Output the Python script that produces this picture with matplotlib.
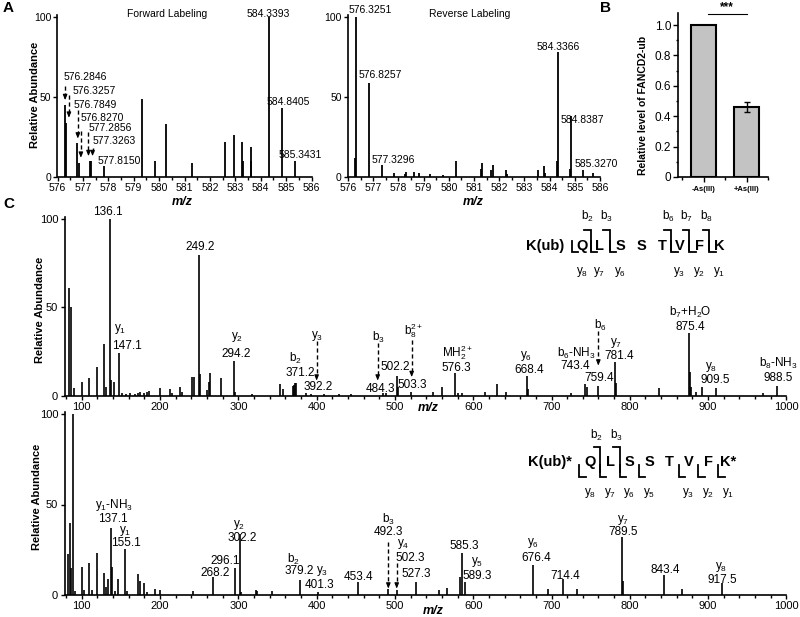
import matplotlib
matplotlib.use('Agg')
import matplotlib.pyplot as plt
from matplotlib.ticker import MultipleLocator, FixedLocator

plt.rcParams['font.family'] = ['Liberation Sans', 'DejaVu Sans']
plt.rcParams['mathtext.fontset'] = 'custom'
plt.rcParams['mathtext.rm'] = 'Liberation Sans'
plt.rcParams['mathtext.it'] = 'Liberation Sans:italic'
plt.rcParams['mathtext.bf'] = 'Liberation Sans:bold'

# ---------------- data ----------------
# Panel A, forward labeling
A_fwd_mz = [576.2846, 576.3257, 576.7849, 576.8270, 577.2856, 577.3263, 577.8150,
            579.33, 579.82, 580.28, 581.29, 582.60, 582.94, 583.27, 583.30,
            583.60, 583.63, 584.3393, 584.8405, 585.3431]
A_fwd_int = [45, 34, 21, 9, 10, 10, 7, 49, 10, 33, 9, 22, 26, 22, 10, 10, 19, 100, 43, 10]
A_fwd_lab = ["576.2846", "576.3257", "576.7849", "576.8270", "577.2856", "577.3263",
             "577.8150", "584.3393", "584.8405", "585.3431"]
A_fwd_lab_x = [577.09, 577.45, 577.48, 577.77, 578.06, 578.23, 578.43, 584.29, 585.09, 585.55]
A_fwd_lab_y = [62.3, 54, 44.8, 36.7, 30.4, 22.5, 10, 102, 47, 13.7]
A_fwd_arrow_x = [576.30, 576.45, 576.80, 576.92, 577.22, 577.38]
A_fwd_arrow_top = [57, 51.5, 42, 29, 28, 18]
A_fwd_arrow_bot = [48, 37, 24, 12, 13, 13]

# Panel A, reverse labeling
A_rev_mz = [576.28, 576.3251, 576.8257, 577.3296, 577.83, 578.25, 578.30, 578.62, 578.83,
            579.25, 579.78, 580.27, 581.28, 581.32, 581.67, 581.75, 582.26, 582.30,
            583.53, 583.78, 583.83, 584.31, 584.3366, 584.81, 584.8387, 585.3270, 585.71]
A_rev_int = [12, 100, 59, 7.5, 2.3, 2, 3.3, 3.3, 2.7, 2, 1.5, 9.7, 5, 8.6, 4.2, 7.3, 4.6, 2,
             4.2, 7.1, 2.5, 10, 78, 5, 38, 4.4, 2.5]
A_rev_lab = ["576.3251", "576.8257", "577.3296", "584.3366", "584.8387", "585.3270"]
A_rev_lab_x = [576.87, 577.30, 577.80, 584.35, 585.30, 585.86]
A_rev_lab_y = [104.4, 63.8, 10.6, 81, 35.6, 8.1]

# Panel B
B_cats = ['-As(III)', '+As(III)']
B_vals = [1.0, 0.46]
B_errs = [0.0, 0.035]

# Panel C, top spectrum
C1_mz = [83.8, 86.0, 90.0, 100.8, 109.3, 119.1, 128.5, 131.0, 136.1, 138.0, 141.0, 147.1,
         152, 157, 162, 168, 172, 175, 180, 183, 186, 200, 212.8, 215, 225.7, 228, 240.6,
         243.0, 249.2, 250.8, 260.4, 262.0, 263.8, 277.5, 294.2, 296, 318, 353.3, 356.7,
         370.3, 371.2, 372.2, 373.2, 386, 392.2, 410, 428, 444, 484.3, 488, 502.2, 504,
         521, 548.6, 560, 576.3, 581, 586, 615, 631, 642, 668.4, 670, 725, 743.4, 745,
         759.4, 781.4, 783, 837, 875.4, 876.5, 878, 884, 891.6, 909.5, 970, 988.5]
C1_int = [61, 50, 4.5, 8, 10, 16.4, 29, 5, 100, 9, 8, 24.3,
          1.5, 1.2, 1.5, 1, 1.8, 2, 1.5, 2, 2.5, 4.5, 3.8, 1.5, 5, 2, 10.4,
          10.7, 79.6, 12.3, 3, 8, 13, 10.2, 19.8, 2, 1, 6.6, 4,
          5.5, 6.2, 7, 7.4, 1.5, 1.2, 1.2, 1, 1.2, 1.5, 1.5, 11.3, 5,
          2.3, 2, 4.7, 12.6, 1.7, 1.3, 2.3, 6.4, 2.3, 11.3, 3.6, 1.3, 6.6, 5,
          5.7, 18.9, 7, 4.2, 35.3, 13.6, 5, 2, 4.7, 4.5, 1.3, 5.7]
C1_lab = ["136.1", "249.2", "y$_1$", "147.1", "y$_2$", "294.2", "b$_2$", "371.2",
          "y$_3$", "392.2", "b$_3$", "484.3", "502.2", "b$_8^{2+}$", "503.3",
          "MH$_2^{2+}$", "576.3", "y$_6$", "668.4", "b$_6$-NH$_3$", "743.4", "b$_6$",
          "759.4", "y$_7$", "781.4", "b$_7$+H$_2$O", "875.4", "y$_8$", "909.5",
          "b$_8$-NH$_3$", "988.5"]
C1_lab_x = [134, 251, 149, 157.5, 298.5, 296.7, 372.8, 378.8,
            400.5, 402, 478.8, 481, 501, 524, 522,
            579.7, 578, 667.5, 671.3, 732, 730, 762,
            760.7, 783, 786, 877, 877, 904, 909.7,
            989.6, 989.6]
C1_lab_y = [104, 84, 38, 28, 33, 23.6, 21.2, 12.6,
            34, 5, 33, 4, 16.4, 37, 6,
            24.5, 15.5, 22.5, 14.5, 23.8, 16.6, 40,
            9.8, 30, 22.6, 47, 38.7, 16.4, 8.9,
            18, 9.8]
C1_arrow_x = [400, 478, 521.4, 759.8]
C1_arrow_top = [31, 30, 31.5, 36.5]
C1_arrow_bot = [8.5, 8.5, 10.5, 17]
C1_res = ["K(ub)", "Q", "L", "S", "S", "T", "V", "F", "K"]
C1_res_x = [692, 738.6, 761, 787.5, 815, 842, 863.6, 888.8, 914.3]
C1_b_ions = [2, 3, 6, 7, 8]
C1_y_ions = [8, 7, 6, 3, 2, 1]

# Panel C, bottom spectrum
C2_mz = [82.9, 85.0, 86.3, 89.3, 92, 100.8, 102.5, 109.7, 113, 119.1, 128.5, 131, 133,
         137.1, 138.8, 142, 146.8, 155.1, 157.5, 172.3, 174.5, 180, 183, 193.6, 200,
         241.7, 268.2, 296.1, 302.2, 304, 322, 324, 343, 379.2, 401.3, 453.4, 491.6,
         502.3, 527.3, 556.7, 567, 583.5, 585.3, 589.3, 676.4, 696, 714.4, 732, 789.5,
         791, 843.4, 866.7, 917.5]
C2_int = [22.5, 39.6, 14.7, 100, 2, 15.6, 2.8, 17.5, 2.8, 23, 12.3, 4.6, 9,
          36.8, 15.6, 2.4, 8.8, 25.2, 2.4, 11.4, 7.9, 6.8, 1.8, 3.1, 2.8,
          2.4, 10.1, 15.1, 33.7, 1.5, 2.8, 2.4, 2.4, 8.3, 1.8, 7.4, 3.3,
          2.8, 7.4, 2.8, 4, 10, 23, 7.4, 16.6, 3.3, 8.7, 3.3, 31.9,
          8, 11, 3.3, 6.8]
C2_lab = ["y$_1$-NH$_3$", "137.1", "y$_1$", "155.1", "296.1", "268.2", "y$_2$", "302.2",
          "b$_2$", "379.2", "y$_3$", "401.3", "453.4", "b$_3$", "492.3", "y$_4$", "502.3",
          "527.3", "585.3", "y$_5$", "589.3", "y$_6$", "676.4", "714.4", "y$_7$", "789.5",
          "843.4", "y$_8$", "917.5"]
C2_lab_x = [141.3, 140, 156, 157, 283, 271, 301, 305.6,
            371, 378.4, 406.5, 404, 453.7, 491.6, 491.8, 510.7, 519,
            527, 588, 605, 604.5, 677, 680, 717, 791, 792,
            845, 917, 918]
C2_lab_y = [49.7, 42, 35.5, 29, 19, 12, 38.7, 31.7,
            19.8, 13, 13, 5.5, 10, 42, 35, 28, 20.6,
            11.4, 27, 18.4, 10.5, 28.5, 20.6, 10.7, 41.4, 34.6,
            13.8, 15.5, 8.5]
C2_arrow_x = [491.6, 502.3]
C2_arrow_top = [29.5, 17.5]
C2_arrow_bot = [3.5, 3.5]
C2_res = ["K(ub)*", "Q", "L", "S", "S", "T", "V", "F", "K*"]
C2_res_x = [698, 749, 775, 799, 825, 850, 875, 900, 926]
C2_b_ions = [2, 3]
C2_y_ions = [8, 7, 6, 5, 3, 2, 1]

# ---------------- figure ----------------
W, H = 800, 617
fig = plt.figure(figsize=(W / 100, H / 100), dpi=100)


def add_ax(x0, x1, y_top, y_bot):
    return fig.add_axes([x0 / W, 1 - y_bot / H, (x1 - x0) / W, (y_bot - y_top) / H])


def style(ax, fs):
    for s in ['top', 'right']:
        ax.spines[s].set_visible(False)
    for s in ['left', 'bottom']:
        ax.spines[s].set_linewidth(1.2)
    ax.tick_params(which='both', direction='out', width=1, labelsize=fs, pad=1.5)
    ax.tick_params(which='major', length=3)
    ax.tick_params(which='minor', length=1.8)


def dashed_arrow(ax, x, ytop, ybot, head):
    ax.plot([x, x], [ytop, ybot + head], ls=(0, (3, 2)), color='k', lw=1.0, clip_on=False)
    ax.annotate('', xy=(x, ybot), xytext=(x, ybot + head),
                arrowprops=dict(arrowstyle='-|>,head_length=0.45,head_width=0.18',
                                mutation_scale=7, color='k', lw=0.8,
                                shrinkA=0, shrinkB=0),
                annotation_clip=False)


# ---- Panel A left ----
axA1 = add_ax(57.5, 311.5, 177 - 101 * 1.6, 177)
axA1.vlines(A_fwd_mz, 0, A_fwd_int, color='k', lw=1.3)
axA1.set_xlim(576, 586)
axA1.set_ylim(0, 101)
axA1.xaxis.set_major_locator(MultipleLocator(1))
axA1.xaxis.set_minor_locator(MultipleLocator(0.5))
axA1.set_yticks([0, 50, 100])
style(axA1, 7.5)
for t, x, y in zip(A_fwd_lab, A_fwd_lab_x, A_fwd_lab_y):
    axA1.text(x, y, t, ha='center', va='center', fontsize=7.5, clip_on=False)
for x, yt, yb in zip(A_fwd_arrow_x, A_fwd_arrow_top, A_fwd_arrow_bot):
    dashed_arrow(axA1, x, yt, yb, 2.5)

# ---- Panel A right ----
axA2 = add_ax(348, 600, 177 - 101 * 1.6, 177)
axA2.vlines(A_rev_mz, 0, A_rev_int, color='k', lw=1.3)
axA2.set_xlim(576, 586)
axA2.set_ylim(0, 101)
axA2.xaxis.set_major_locator(MultipleLocator(1))
axA2.xaxis.set_minor_locator(MultipleLocator(0.5))
axA2.set_yticks([0, 50, 100])
style(axA2, 7.5)
for t, x, y in zip(A_rev_lab, A_rev_lab_x, A_rev_lab_y):
    axA2.text(x, y, t, ha='center', va='center', fontsize=7.5, clip_on=False)

fig.text(167 / W, 1 - 14 / H, 'Forward Labeling', ha='center', va='center', fontsize=7.5)
fig.text(470 / W, 1 - 14 / H, 'Reverse Labeling', ha='center', va='center', fontsize=7.5)
fig.text(182 / W, 1 - 202 / H, 'm/z', ha='center', va='center', fontsize=9,
         fontweight='bold', style='italic')
fig.text(473 / W, 1 - 202 / H, 'm/z', ha='center', va='center', fontsize=9,
         fontweight='bold', style='italic')
fig.text(35 / W, 1 - 95 / H, 'Relative Abundance', rotation=90, ha='center', va='center',
         fontsize=8, fontweight='bold')

# ---- Panel B ----
axB = add_ax(678, 768, 177 - 1.077 * 152, 177)
bx = [1, 2]
axB.bar(bx, B_vals, width=0.58, color='#c3c3c3', edgecolor='k', linewidth=1.5)
axB.errorbar([bx[1]], [B_vals[1]], yerr=[B_errs[1]], fmt='none', ecolor='k',
             elinewidth=1, capsize=2.5, capthick=1)
axB.set_xlim(0.4, 2.5)
axB.set_ylim(0, 1.077)
axB.set_xticks(bx)
axB.set_xticklabels(B_cats, fontsize=5.5, fontweight='bold')
axB.xaxis.set_minor_locator(FixedLocator([0.5, 1.5, 2.5]))
axB.set_yticks([0, 0.2, 0.4, 0.6, 0.8, 1.0])
axB.set_yticklabels(['0', '0.2', '0.4', '0.6', '0.8', '1.0'])
axB.yaxis.set_minor_locator(MultipleLocator(0.1))
style(axB, 8.5)
axB.tick_params(axis='x', labelsize=5.5, pad=3)
axB.tick_params(which='major', length=3.5)
axB.plot([1.09, 2.0], [1.072, 1.072], color='k', lw=0.8, clip_on=False)
axB.text(1.53, 1.115, '***', ha='center', va='center', fontsize=8.5, fontweight='bold',
         clip_on=False)
fig.text(643 / W, 1 - 105 / H, 'Relative level of FANCD2-ub', rotation=90, ha='center',
         va='center', fontsize=7.5, fontweight='bold')

# ---- Panel C top ----
axC1 = add_ax(64.5, 786.4, 395.7 - 101 * 1.767, 395.7)
axC1.vlines(C1_mz, 0, C1_int, color='k', lw=1.2)
axC1.set_xlim(78, 1000)
axC1.set_ylim(0, 101)
axC1.xaxis.set_major_locator(FixedLocator([100, 200, 300, 400, 500, 600, 700, 800, 900, 1000]))
axC1.xaxis.set_minor_locator(MultipleLocator(20))
axC1.set_yticks([0, 50, 100])
style(axC1, 8)
for t, x, y in zip(C1_lab, C1_lab_x, C1_lab_y):
    axC1.text(x, y, t, ha='center', va='center', fontsize=8.5, clip_on=False)
for x, yt, yb in zip(C1_arrow_x, C1_arrow_top, C1_arrow_bot):
    dashed_arrow(axC1, x, yt, yb, 2.6)


def peptide(ax, res, res_x, b_ions, y_ions, y_res, b_top, b_bot, y_top, y_bot,
            b_lab_y, y_lab_y, hook, first_gap_off):
    n = len(res)
    for r, x in zip(res, res_x):
        ax.text(x, y_res, r, ha='center', va='center', fontsize=10.5, fontweight='bold',
                clip_on=False)
    gaps = {}
    for i in range(1, n):
        if i == 1:
            gaps[i] = res_x[1] - first_gap_off
        else:
            gaps[i] = (res_x[i - 1] + res_x[i]) / 2
    for b in b_ions:
        g = gaps[b]
        ax.plot([g - hook, g, g], [b_top, b_top, b_bot], color='k', lw=1.3,
                clip_on=False, solid_joinstyle='miter')
        ax.text(g - 4, b_lab_y, 'b$_{%d}$' % b, ha='center', va='center', fontsize=8.5,
                clip_on=False)
    for yv in y_ions:
        i = n - yv
        g = gaps[i]
        ax.plot([g, g, g + hook], [y_top, y_bot, y_bot], color='k', lw=1.3,
                clip_on=False, solid_joinstyle='miter')
        ax.text(res_x[i], y_lab_y, 'y$_{%d}$' % yv, ha='center', va='center',
                fontsize=8.5, clip_on=False)


peptide(axC1, C1_res, C1_res_x, C1_b_ions, C1_y_ions, 84.8, 93.8, 82.6, 87.5, 81.6,
        101.3, 70.2, 8.5, 13)

fig.text(428 / W, 1 - 408 / H, 'm/z', ha='center', va='center', fontsize=9,
         fontweight='bold', style='italic')
fig.text(40 / W, 1 - 310 / H, 'Relative Abundance', rotation=90, ha='center', va='center',
         fontsize=8, fontweight='bold')

# ---- Panel C bottom ----
axC2 = add_ax(64.5, 786.4, 595 - 101 * 1.81, 595)
axC2.vlines(C2_mz, 0, C2_int, color='k', lw=1.2)
axC2.set_xlim(78, 1000)
axC2.set_ylim(0, 101)
axC2.xaxis.set_major_locator(FixedLocator([100, 200, 300, 400, 500, 600, 700, 800, 900, 1000]))
axC2.xaxis.set_minor_locator(MultipleLocator(20))
axC2.set_yticks([0, 50, 100])
style(axC2, 8)
for t, x, y in zip(C2_lab, C2_lab_x, C2_lab_y):
    axC2.text(x, y, t, ha='center', va='center', fontsize=8.5, clip_on=False)
for x, yt, yb in zip(C2_arrow_x, C2_arrow_top, C2_arrow_bot):
    dashed_arrow(axC2, x, yt, yb, 2.5)

peptide(axC2, C2_res, C2_res_x, C2_b_ions, C2_y_ions, 73.3, 82.0, 68.0, 71.8, 65.4,
        88.4, 56.2, 8.0, 13.4)

fig.text(433 / W, 1 - 611 / H, 'm/z', ha='center', va='center', fontsize=9,
         fontweight='bold', style='italic')
fig.text(37 / W, 1 - 497 / H, 'Relative Abundance', rotation=90, ha='center', va='center',
         fontsize=8, fontweight='bold')

# panel letters
fig.text(3 / W, 1 - 8 / H, 'A', ha='left', va='center', fontsize=11, fontweight='bold')
fig.text(600 / W, 1 - 8 / H, 'B', ha='left', va='center', fontsize=11, fontweight='bold')
fig.text(3 / W, 1 - 204 / H, 'C', ha='left', va='center', fontsize=11, fontweight='bold')

fig.savefig('out.png', dpi=100)
